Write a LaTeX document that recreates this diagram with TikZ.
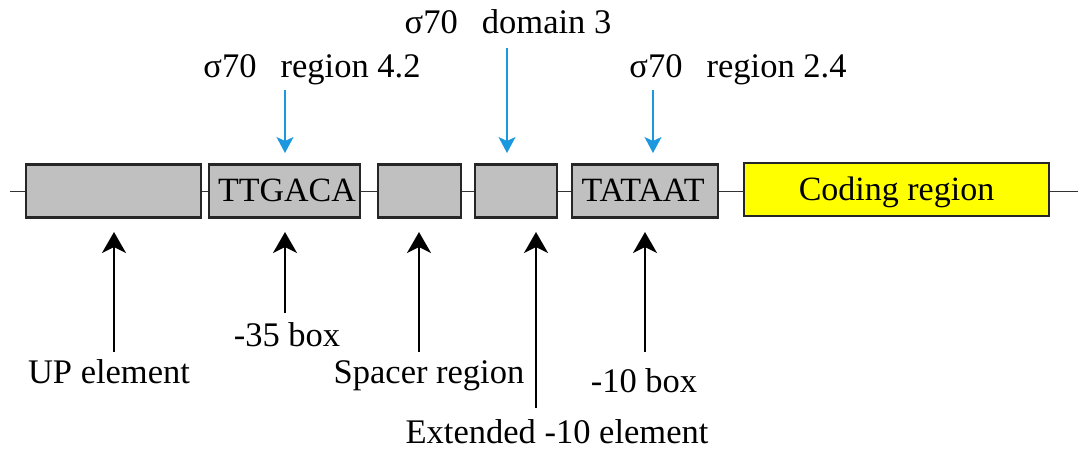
\documentclass[tikz,border=0pt]{standalone}
\usepackage{fontspec}
\setmainfont{Liberation Serif}
\usetikzlibrary{arrows.meta}
\definecolor{boxgray}{RGB}{192,192,192}
\definecolor{arrblue}{RGB}{28,152,222}
\definecolor{codeyellow}{RGB}{255,255,0}
\tikzset{
  seg/.style={draw=black!85, line width=2.4pt, fill=boxgray, inner sep=0pt},
  codebox/.style={draw=black!85, line width=2.4pt, fill=codeyellow, inner sep=0pt},
  lbl/.style={inner sep=0pt, anchor=base, font=\fontsize{34.5}{40}\selectfont},
  boxtxt/.style={inner sep=0pt, anchor=base, font=\fontsize{34}{40}\selectfont},
  blkarrow/.style={draw=black, line width=2pt, -{Stealth[length=21pt,width=24pt,inset=6pt]}},
  bluearrow/.style={draw=arrblue, line width=1.6pt, -{Stealth[length=16pt,width=17pt,inset=4pt]}},
  dnaline/.style={draw=black!80, line width=1pt}
}
\begin{document}
\begin{tikzpicture}[x=1pt,y=-1pt]
\useasboundingbox (0,0) rectangle (1078,450);
% DNA backbone
\coordinate (lend) at (10,191);
\coordinate (rend) at (1078,191);
\draw[dnaline] (lend) -- (rend);
% boxes
\node[seg, minimum width=175pt, minimum height=53pt] (up) at (113.5,191) {};
\node[seg, minimum width=151pt, minimum height=53pt] (b35) at (284.5,191) {};
\node[seg, minimum width=83pt, minimum height=53pt] (sp) at (419.5,191) {};
\node[seg, minimum width=82pt, minimum height=53pt] (ext) at (516,191) {};
\node[seg, minimum width=146pt, minimum height=53pt] (b10) at (645,191) {};
\node[codebox, minimum width=305pt, minimum height=53pt] (code) at (896.5,189.5) {};
\node[boxtxt] (t35) at (287,201) {TTGACA};
\node[boxtxt] (t10) at (643,201) {TATAAT};
\node[boxtxt] (tcode) at (896.5,200) {Coding region};
% top labels
\node[lbl] (r42) at (312,77) {σ70\hspace{0.7em}region 4.2};
\node[lbl] (d3) at (508,33) {σ70\hspace{0.7em}domain 3};
\node[lbl] (r24) at (738,77) {σ70\hspace{0.7em}region 2.4};
% blue arrows
\coordinate (r42s) at (285,90);  \coordinate (r42e) at (285,153);
\coordinate (d3s) at (507,48);   \coordinate (d3e) at (507,153);
\coordinate (r24s) at (653,90);  \coordinate (r24e) at (653,153);
\draw[bluearrow] (r42s) -- (r42e);
\draw[bluearrow] (d3s) -- (d3e);
\draw[bluearrow] (r24s) -- (r24e);
% bottom labels
\node[lbl] (lup) at (109,383) {UP element};
\node[lbl] (l35) at (287,346) {-35 box};
\node[lbl] (lsp) at (429,383) {Spacer region};
\node[lbl] (lext) at (557,443) {Extended -10 element};
\node[lbl] (l10) at (644,392) {-10 box};
% black arrows
\coordinate (aup) at (114,352);  \coordinate (tup) at (114,232);
\coordinate (a35) at (285,313);  \coordinate (t35a) at (285,232);
\coordinate (asp) at (419,352);  \coordinate (tsp) at (419,232);
\coordinate (aext) at (536,408); \coordinate (text) at (536,232);
\coordinate (a10) at (645,352);  \coordinate (t10a) at (645,232);
\draw[blkarrow] (aup) -- (tup);
\draw[blkarrow] (a35) -- (t35a);
\draw[blkarrow] (asp) -- (tsp);
\draw[blkarrow] (aext) -- (text);
\draw[blkarrow] (a10) -- (t10a);
\end{tikzpicture}
\end{document}
